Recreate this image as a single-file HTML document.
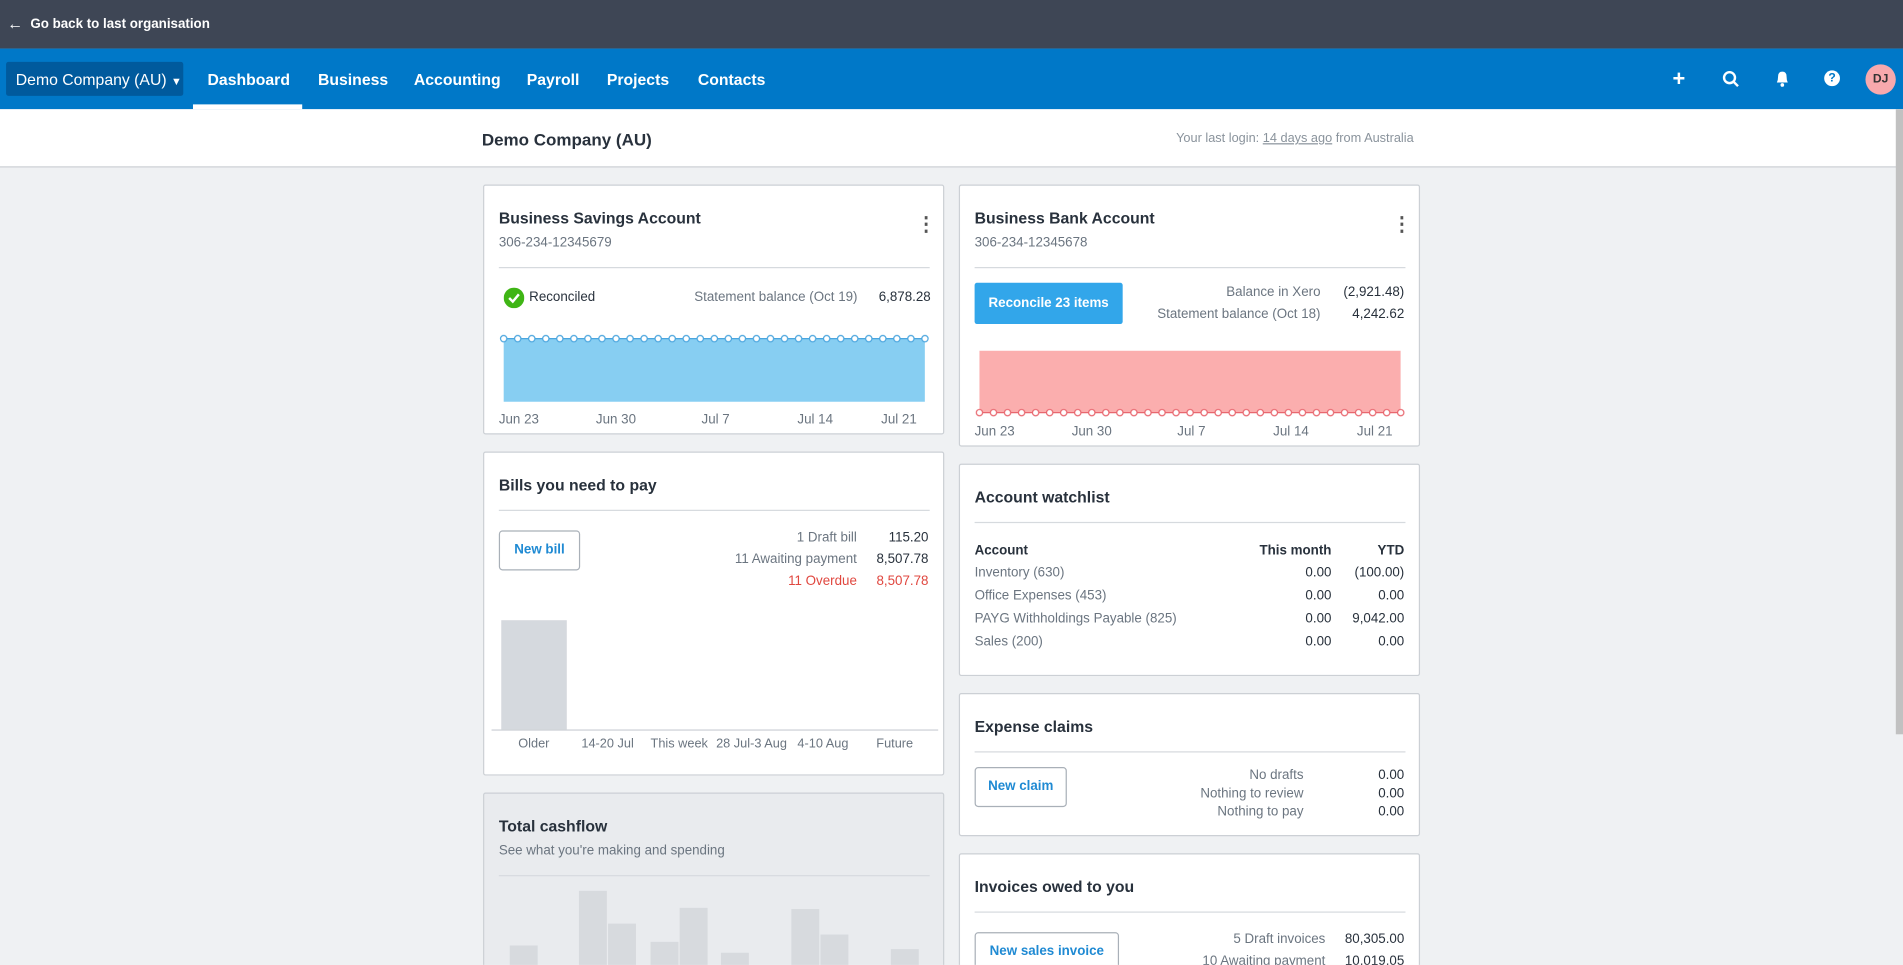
<!DOCTYPE html>
<html><head><meta charset="utf-8"><style>
*{margin:0;padding:0;box-sizing:border-box}
html,body{width:1903px;height:965px;overflow:hidden;background:#eff1f3;font-family:"Liberation Sans",sans-serif}
#w{position:absolute;left:0;top:0;width:1568px;height:795px;overflow:hidden;transform:scale(1.2137);transform-origin:0 0;background:#eff1f3;color:#28313c}
.a{position:absolute;white-space:nowrap}
.card{position:absolute;background:#fff;border:1px solid #ccd0d5;border-radius:2px}
.t{font-size:13px;font-weight:bold;color:#28313c}
.s{font-size:11px;color:#6b7580}
.hr{position:absolute;height:1px;background:#d6dade}
.nv{font-size:13px;font-weight:bold;color:#fff;top:58px}
.r{text-align:right}
.btn{position:absolute;border:1px solid #a9b0b8;border-radius:3px;font-size:11px;font-weight:bold;color:#1f8ad3;text-align:center;background:#fff}
.dots{position:absolute;top:-4px;font-size:16px;font-weight:bold;color:#555}
</style></head><body><div id="w">
<div class="a" style="left:0;top:0;width:1568px;height:40px;background:#3e4655"></div>
<div class="a" style="left:6px;top:12px;color:#fff;font-size:13px;font-weight:bold">&#8592;</div>
<div class="a" style="left:25px;top:14px;color:#fff;font-size:11px;font-weight:bold">Go back to last organisation</div>
<div class="a" style="left:0;top:40px;width:1568px;height:50px;background:#0078c8"></div>
<div class="a" style="left:5px;top:51px;width:146px;height:28px;background:#005a9d;border-radius:2px"></div>
<div class="a" style="left:13px;top:58px;color:#fff;font-size:13px">Demo Company (AU) <span style="font-size:9px">&#9660;</span></div>
<div class="a" style="left:159px;top:86px;width:90px;height:4px;background:#fff"></div>
<div class="a nv" style="left:171px">Dashboard</div>
<div class="a nv" style="left:262px">Business</div>
<div class="a nv" style="left:341px">Accounting</div>
<div class="a nv" style="left:434px">Payroll</div>
<div class="a nv" style="left:500px">Projects</div>
<div class="a nv" style="left:575px">Contacts</div>
<div class="a" style="left:1378px;top:55px;color:#fff;font-size:18px;font-weight:bold">+</div>
<svg class="a" style="left:1419px;top:58px" width="14" height="14"><circle cx="6" cy="6" r="4.5" stroke="#fff" stroke-width="2" fill="none"/><line x1="9" y1="9" x2="13" y2="13" stroke="#fff" stroke-width="2"/></svg>
<svg class="a" style="left:1462px;top:58px" width="13" height="14"><path d="M2 10 Q3 8 3 5 Q3 1 6.5 1 Q10 1 10 5 Q10 8 11 10 Z" fill="#fff"/><circle cx="6.5" cy="12" r="1.5" fill="#fff"/></svg>
<div class="a" style="left:1503px;top:58px;width:13px;height:13px;border-radius:50%;background:#fff;color:#0078c8;font-size:10px;font-weight:bold;text-align:center;line-height:13px">?</div>
<div class="a" style="left:1537px;top:53px;width:25px;height:25px;border-radius:50%;background:#f8a9ad;color:#333;font-size:10px;font-weight:bold;text-align:center;line-height:25px">DJ</div>
<div class="a" style="left:0;top:90px;width:1568px;height:48px;background:#fff;border-bottom:1px solid #ccd0d5"></div>
<div class="a" style="left:397px;top:107px;font-size:14px;font-weight:bold">Demo Company (AU)</div>
<div class="a s" style="left:969px;top:108px;color:#8a939c;font-size:10.5px">Your last login: <u>14 days ago</u> from Australia</div>
<div class="a" style="left:1562px;top:90px;width:6px;height:515px;background:#c1c1c1"></div>

<!-- card1 -->
<div class="card" style="left:398px;top:152px;width:380px;height:206px">
<div class="a t" style="left:12px;top:19px">Business Savings Account</div>
<div class="a s" style="left:12px;top:41px">306-234-12345679</div>
<div class="dots" style="left:356px;top:22px">&#8942;</div>
<div class="hr" style="left:12px;top:67px;width:355px"></div>
<svg class="a" style="left:16px;top:84px" width="17" height="17"><circle cx="8.5" cy="8.5" r="8.5" fill="#3fb515"/><path d="M4.5 8.5 L7.5 11.5 L12.5 5.5" stroke="#fff" stroke-width="2" fill="none"/></svg>
<div class="a" style="left:37px;top:86px;font-size:11px;color:#28313c">Reconciled</div>
<div class="a s" style="left:173px;top:86px">Statement balance (Oct 19)</div>
<div class="a" style="left:325px;top:86px;font-size:11px">6,878.28</div>
<svg class="a" style="left:10px;top:120px" width="360" height="62">
<defs><pattern id="p1" x="0.22" y="0" width="11.57" height="62" patternUnits="userSpaceOnUse"><circle cx="5.78" cy="6" r="2.6" fill="#fff" stroke="#4aa5de" stroke-width="1"/></pattern></defs>
<rect x="6" y="6" width="347" height="52" fill="#87cef2"/>
<line x1="6" y1="6" x2="353" y2="6" stroke="#4aa5de"/>
<rect x="0" y="0" width="360" height="14" fill="url(#p1)"/>
</svg>
<div class="a s" style="left:12px;top:187px">Jun 23</div><div class="a s" style="left:92px;top:187px">Jun 30</div><div class="a s" style="left:179px;top:187px">Jul 7</div><div class="a s" style="left:258px;top:187px">Jul 14</div><div class="a s" style="left:327px;top:187px">Jul 21</div>
</div>

<!-- card2 -->
<div class="card" style="left:790px;top:152px;width:380px;height:216px">
<div class="a t" style="left:12px;top:19px">Business Bank Account</div>
<div class="a s" style="left:12px;top:41px">306-234-12345678</div>
<div class="dots" style="left:356px;top:22px">&#8942;</div>
<div class="hr" style="left:12px;top:67px;width:355px"></div>
<div class="a" style="left:12px;top:80px;width:122px;height:34px;background:#32a6ea;border-radius:2px;color:#fff;font-size:11px;font-weight:bold;text-align:center;line-height:34px">Reconcile 23 items</div>
<div class="a s r" style="left:200px;width:97px;top:82px">Balance in Xero</div>
<div class="a r" style="left:300px;width:66px;top:82px;font-size:11px">(2,921.48)</div>
<div class="a s r" style="left:150px;width:147px;top:100px">Statement balance (Oct 18)</div>
<div class="a r" style="left:300px;width:66px;top:100px;font-size:11px">4,242.62</div>
<svg class="a" style="left:10px;top:132px" width="360" height="62">
<defs><pattern id="p2" x="0.22" y="0" width="11.57" height="62" patternUnits="userSpaceOnUse"><circle cx="5.78" cy="55" r="2.6" fill="#fff" stroke="#e8676f" stroke-width="1"/></pattern></defs>
<rect x="6" y="4" width="347" height="51" fill="#fbaeae"/>
<line x1="6" y1="55" x2="353" y2="55" stroke="#e8676f"/>
<rect x="0" y="0" width="360" height="62" fill="url(#p2)"/>
</svg>
<div class="a s" style="left:12px;top:197px">Jun 23</div><div class="a s" style="left:92px;top:197px">Jun 30</div><div class="a s" style="left:179px;top:197px">Jul 7</div><div class="a s" style="left:258px;top:197px">Jul 14</div><div class="a s" style="left:327px;top:197px">Jul 21</div>
</div>

<!-- card3 bills -->
<div class="card" style="left:398px;top:372px;width:380px;height:267px">
<div class="a t" style="left:12px;top:19px">Bills you need to pay</div>
<div class="hr" style="left:12px;top:47px;width:355px"></div>
<div class="btn" style="left:12px;top:64px;width:67px;height:33px;line-height:31px">New bill</div>
<div class="a s r" style="left:150px;width:157px;top:64px">1 Draft bill</div>
<div class="a r" style="left:310px;width:56px;top:64px;font-size:11px">115.20</div>
<div class="a s r" style="left:150px;width:157px;top:82px">11 Awaiting payment</div>
<div class="a r" style="left:310px;width:56px;top:82px;font-size:11px">8,507.78</div>
<div class="a r" style="left:150px;width:157px;top:100px;font-size:11px;color:#e0473f">11 Overdue</div>
<div class="a r" style="left:310px;width:56px;top:100px;font-size:11px;color:#e0473f">8,507.78</div>
<div class="a" style="left:14px;top:138px;width:54px;height:90px;background:#d5d9de"></div>
<div class="hr" style="left:6px;top:228px;width:368px;background:#ccd0d5"></div>
<div class="a s" style="left:28px;top:234px;font-size:10.5px">Older</div>
<div class="a s" style="left:80px;top:234px;font-size:10.5px">14-20 Jul</div>
<div class="a s" style="left:137px;top:234px;font-size:10.5px">This week</div>
<div class="a s" style="left:191px;top:234px;font-size:10.5px">28 Jul-3 Aug</div>
<div class="a s" style="left:258px;top:234px;font-size:10.5px">4-10 Aug</div>
<div class="a s" style="left:323px;top:234px;font-size:10.5px">Future</div>
</div>

<!-- cashflow -->
<div class="card" style="left:398px;top:653px;width:380px;height:160px;background:#e9ebee">
<div class="a t" style="left:12px;top:19px">Total cashflow</div>
<div class="a s" style="left:12px;top:41px">See what you're making and spending</div>
<div class="hr" style="left:12px;top:67px;width:355px"></div>
<div class="a" style="left:21px;top:125px;width:23px;height:30px;background:#d7dade"></div>
<div class="a" style="left:78px;top:80px;width:23px;height:70px;background:#d7dade"></div>
<div class="a" style="left:102px;top:107px;width:23px;height:50px;background:#d7dade"></div>
<div class="a" style="left:137px;top:122px;width:23px;height:40px;background:#d7dade"></div>
<div class="a" style="left:161px;top:94px;width:23px;height:60px;background:#d7dade"></div>
<div class="a" style="left:195px;top:131px;width:23px;height:20px;background:#d7dade"></div>
<div class="a" style="left:253px;top:95px;width:23px;height:60px;background:#d7dade"></div>
<div class="a" style="left:277px;top:116px;width:23px;height:40px;background:#d7dade"></div>
<div class="a" style="left:335px;top:128px;width:23px;height:30px;background:#d7dade"></div>
</div>

<!-- watchlist -->
<div class="card" style="left:790px;top:382px;width:380px;height:175px">
<div class="a t" style="left:12px;top:19px">Account watchlist</div>
<div class="hr" style="left:12px;top:47px;width:355px"></div>
<div class="a" style="left:12px;top:65px;font-size:11px;font-weight:bold">Account</div>
<div class="a r" style="left:220px;width:86px;top:65px;font-size:11px;font-weight:bold">This month</div>
<div class="a r" style="left:310px;width:56px;top:65px;font-size:11px;font-weight:bold">YTD</div>
<div class="a s" style="left:12px;top:83px">Inventory (630)</div><div class="a r" style="left:220px;width:86px;top:83px;font-size:11px">0.00</div><div class="a r" style="left:300px;width:66px;top:83px;font-size:11px">(100.00)</div>
<div class="a s" style="left:12px;top:102px">Office Expenses (453)</div><div class="a r" style="left:220px;width:86px;top:102px;font-size:11px">0.00</div><div class="a r" style="left:300px;width:66px;top:102px;font-size:11px">0.00</div>
<div class="a s" style="left:12px;top:121px">PAYG Withholdings Payable (825)</div><div class="a r" style="left:220px;width:86px;top:121px;font-size:11px">0.00</div><div class="a r" style="left:300px;width:66px;top:121px;font-size:11px">9,042.00</div>
<div class="a s" style="left:12px;top:140px">Sales (200)</div><div class="a r" style="left:220px;width:86px;top:140px;font-size:11px">0.00</div><div class="a r" style="left:300px;width:66px;top:140px;font-size:11px">0.00</div>
</div>

<!-- expense -->
<div class="card" style="left:790px;top:571px;width:380px;height:118px">
<div class="a t" style="left:12px;top:19px">Expense claims</div>
<div class="hr" style="left:12px;top:47px;width:355px"></div>
<div class="btn" style="left:12px;top:60px;width:76px;height:33px;line-height:31px">New claim</div>
<div class="a s r" style="left:150px;width:133px;top:61px">No drafts</div><div class="a r" style="left:300px;width:66px;top:61px;font-size:11px">0.00</div>
<div class="a s r" style="left:150px;width:133px;top:76px">Nothing to review</div><div class="a r" style="left:300px;width:66px;top:76px;font-size:11px">0.00</div>
<div class="a s r" style="left:150px;width:133px;top:91px">Nothing to pay</div><div class="a r" style="left:300px;width:66px;top:91px;font-size:11px">0.00</div>
</div>

<!-- invoices -->
<div class="card" style="left:790px;top:703px;width:380px;height:120px">
<div class="a t" style="left:12px;top:19px">Invoices owed to you</div>
<div class="hr" style="left:12px;top:47px;width:355px"></div>
<div class="btn" style="left:12px;top:64px;width:119px;height:33px;line-height:31px">New sales invoice</div>
<div class="a s r" style="left:150px;width:151px;top:64px">5 Draft invoices</div><div class="a r" style="left:300px;width:66px;top:64px;font-size:11px">80,305.00</div>
<div class="a s r" style="left:150px;width:151px;top:82px">10 Awaiting payment</div><div class="a r" style="left:300px;width:66px;top:82px;font-size:11px">10,019.05</div>
</div>
</div></body></html>
